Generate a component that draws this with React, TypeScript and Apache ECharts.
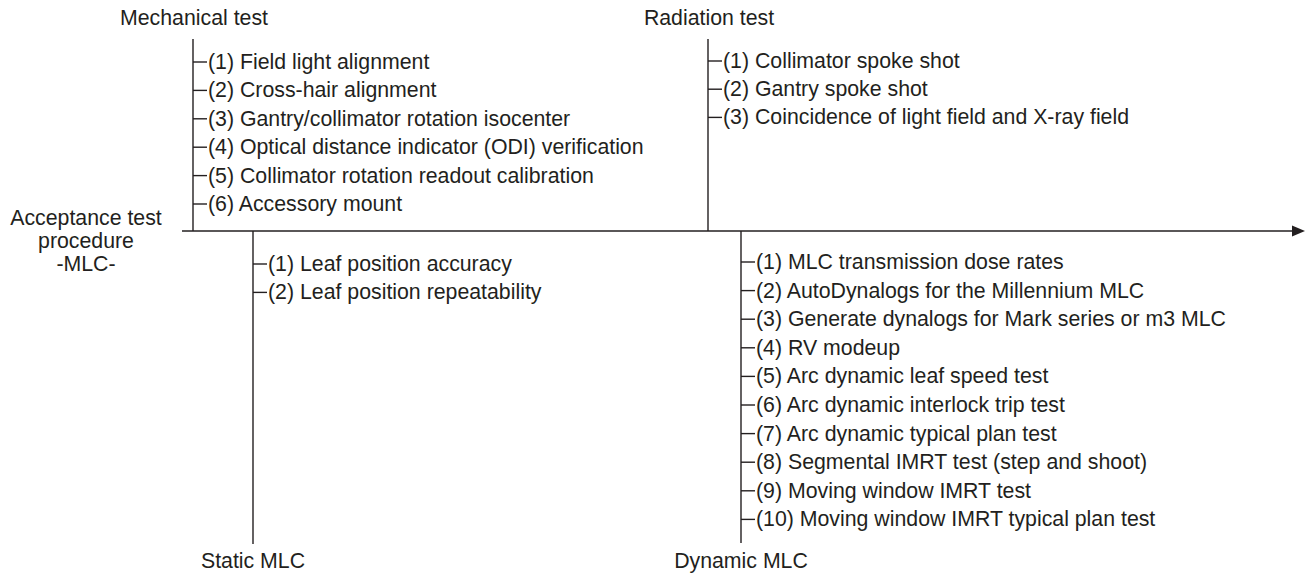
import React, { useEffect, useRef } from "react";
import * as echarts from "echarts";

// ---- content ----
const rootTitle = ["Acceptance test", "procedure", "-MLC-"];
const branchNames = ["Mechanical test", "Radiation test", "Static MLC", "Dynamic MLC"];
const mechanicalItems = [
  "(1) Field light alignment",
  "(2) Cross-hair alignment",
  "(3) Gantry/collimator rotation isocenter",
  "(4) Optical distance indicator (ODI) verification",
  "(5) Collimator rotation readout calibration",
  "(6) Accessory mount",
];
const radiationItems = [
  "(1) Collimator spoke shot",
  "(2) Gantry spoke shot",
  "(3) Coincidence of light field and X-ray field",
];
const staticItems = ["(1) Leaf position accuracy", "(2) Leaf position repeatability"];
const dynamicItems = [
  "(1) MLC transmission dose rates",
  "(2) AutoDynalogs for the Millennium MLC",
  "(3) Generate dynalogs for Mark series or m3 MLC",
  "(4) RV modeup",
  "(5) Arc dynamic leaf speed test",
  "(6) Arc dynamic interlock trip test",
  "(7) Arc dynamic typical plan test",
  "(8) Segmental IMRT test (step and shoot)",
  "(9) Moving window IMRT test",
  "(10) Moving window IMRT typical plan test",
];
const branchItems = [mechanicalItems, radiationItems, staticItems, dynamicItems];

// ---- layout (pixel space of the hidden axes) ----
const W = 1307;
const H = 573;
const SPINE_Y = 231;
const SPINE_X0 = 182;
const SPINE_TIP = 1305;
const layout = [
  { x: 193, y0: 39, y1: SPINE_Y, labelX: 194, labelY: 18, itemY0: 62, step: 28.4 },
  { x: 708, y0: 39, y1: SPINE_Y, labelX: 709, labelY: 18, itemY0: 61, step: 28.2 },
  { x: 253, y0: SPINE_Y, y1: 544, labelX: 253, labelY: 561, itemY0: 264, step: 28.4 },
  { x: 741, y0: SPINE_Y, y1: 543, labelX: 741, labelY: 561, itemY0: 262, step: 28.6 },
];
const TITLE_X = 86;
const TITLE_Y = [218, 241, 264];

const FONT = "'Liberation Sans', Arial, Helvetica, sans-serif";
const FS = 21.3;
const INK = "#231f20";
const TICK = 14;

export default function App() {
  const ref = useRef<HTMLDivElement>(null);
  useEffect(() => {
    document.body.style.margin = "0";
    const chart = echarts.init(ref.current!, null, { renderer: "svg" });
    const lineStyle = { stroke: INK, lineWidth: 1.4 };
    chart.setOption({
      animation: false,
      backgroundColor: "#ffffff",
      grid: { left: 0, right: 0, top: 0, bottom: 0 },
      xAxis: { type: "value", min: 0, max: W, show: false },
      yAxis: { type: "value", min: 0, max: H, inverse: true, show: false },
      series: [
        {
          type: "custom",
          silent: true,
          data: [[0]],
          renderItem: (params: any, api: any) => {
            const a = api.coord([SPINE_X0, SPINE_Y]);
            const b = api.coord([SPINE_TIP - 10, SPINE_Y]);
            const tip = api.coord([SPINE_TIP, SPINE_Y]);
            const children: any[] = [
              { type: "line", shape: { x1: a[0], y1: a[1], x2: b[0], y2: b[1] }, style: lineStyle },
              {
                type: "polygon",
                shape: { points: [[tip[0], tip[1]], [tip[0] - 13, tip[1] - 5.5], [tip[0] - 13, tip[1] + 5.5]] },
                style: { fill: INK },
              },
            ];
            rootTitle.forEach((t, i) => {
              const p = api.coord([TITLE_X, TITLE_Y[i]]);
              children.push({
                type: "text",
                style: { text: t, x: p[0], y: p[1], fill: INK, fontSize: FS, fontFamily: FONT, align: "center", verticalAlign: "middle" },
              });
            });
            return { type: "group", children };
          },
        },
        {
          type: "custom",
          silent: true,
          data: branchNames.map((_, i) => [i]),
          renderItem: (params: any, api: any) => {
            const i = params.dataIndex;
            const L = layout[i];
            const p0 = api.coord([L.x, L.y0]);
            const p1 = api.coord([L.x, L.y1]);
            const children: any[] = [
              { type: "line", shape: { x1: p0[0], y1: p0[1], x2: p1[0], y2: p1[1] }, style: lineStyle },
            ];
            const lp = api.coord([L.labelX, L.labelY]);
            children.push({
              type: "text",
              style: { text: branchNames[i], x: lp[0], y: lp[1], fill: INK, fontSize: FS, fontFamily: FONT, align: "center", verticalAlign: "middle" },
            });
            branchItems[i].forEach((t, k) => {
              const y = L.itemY0 + k * L.step;
              const s = api.coord([L.x, y]);
              const e = api.coord([L.x + TICK, y]);
              children.push({ type: "line", shape: { x1: s[0], y1: s[1], x2: e[0], y2: e[1] }, style: lineStyle });
              children.push({
                type: "text",
                style: { text: t, x: e[0] + 1, y: e[1], fill: INK, fontSize: FS, fontFamily: FONT, align: "left", verticalAlign: "middle" },
              });
            });
            return { type: "group", children };
          },
        },
      ],
    });
    return () => chart.dispose();
  }, []);
  return <div ref={ref} style={{ width: W, height: H }} />;
}
